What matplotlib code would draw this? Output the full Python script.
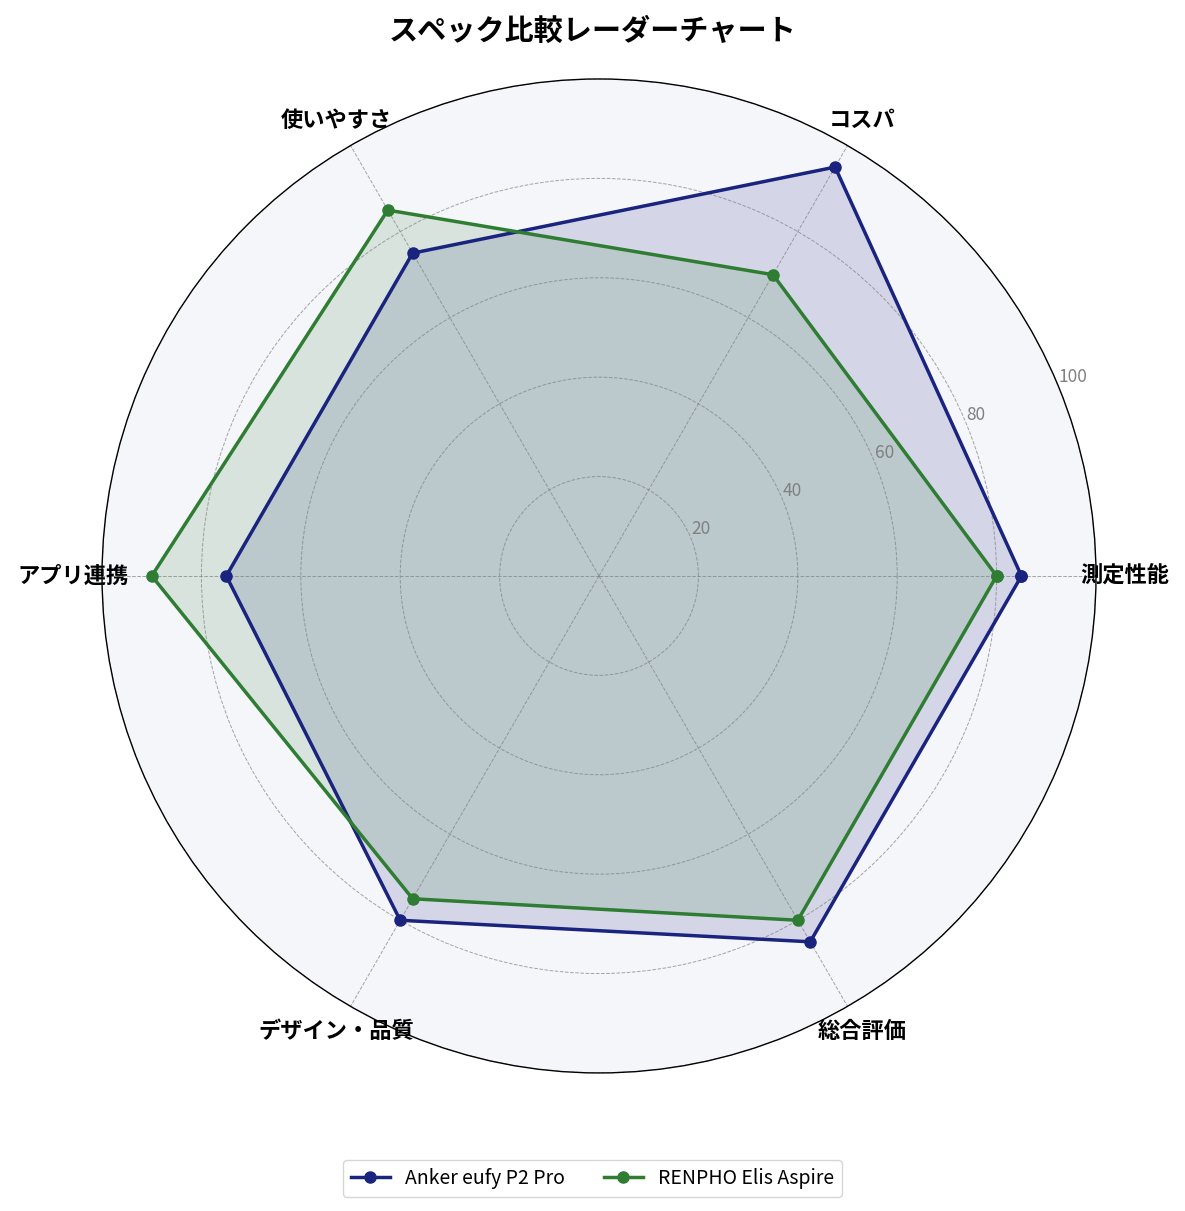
import numpy as np
import matplotlib
matplotlib.use("Agg")
import matplotlib.pyplot as plt

plt.rcParams['font.family'] = ['Noto Sans CJK JP', 'DejaVu Sans']

# data
categories = ['測定性能', 'コスパ', '使いやすさ', 'アプリ連携', 'デザイン・品質', '総合評価']
anker = [85, 95, 75, 75, 80, 85]
renpho = [80, 70, 85, 90, 75, 80]
series_names = ['Anker eufy P2 Pro', 'RENPHO Elis Aspire']
colors = ['#1a237e', '#2e7d32']
r_ticks = [20, 40, 60, 80, 100]

n = len(categories)
angles = np.linspace(0, 2 * np.pi, n, endpoint=False).tolist()
angles += angles[:1]

fig = plt.figure(figsize=(11.85, 12.11), dpi=100)
ax = fig.add_axes([0.0861, 0.1140, 0.8388, 0.8208], polar=True)
ax.set_facecolor('#f5f6fa')

for vals, name, c in zip([anker, renpho], series_names, colors):
    v = vals + vals[:1]
    ax.plot(angles, v, color=c, linewidth=2.5, marker='o', markersize=8, label=name)
    ax.fill(angles, v, color=c, alpha=0.15)

ax.set_ylim(0, 100)
ax.set_yticks(r_ticks)
ax.set_yticklabels([str(t) for t in r_ticks], color='gray', fontsize=12.5)
ax.set_rlabel_position(22.5)
ax.set_xticks(angles[:-1])
ax.set_xticklabels(categories, fontsize=16, fontweight='bold')
ax.tick_params(axis='x', pad=10)
ax.grid(color='gray', linestyle='--', linewidth=0.7, alpha=0.7)
ax.spines['polar'].set_color('black')
ax.spines['polar'].set_linewidth(1)

fig.suptitle('スペック比較レーダーチャート', fontsize=21, fontweight='bold', y=0.987)
fig.legend(loc='center', bbox_to_anchor=(0.5, 0.027), ncol=2, fontsize=14, frameon=True)

fig.savefig('out.png', dpi=100)
